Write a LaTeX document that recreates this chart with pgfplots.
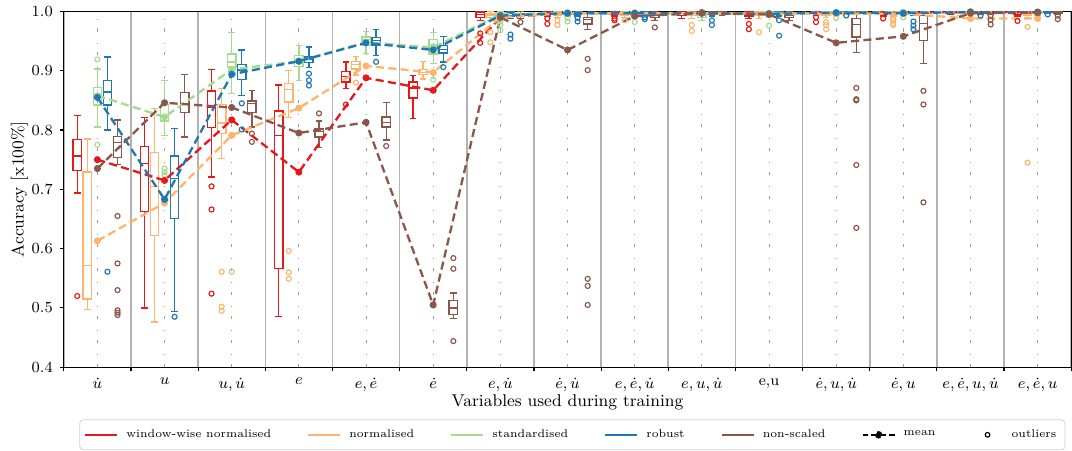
\documentclass[border=0pt]{standalone}
\usepackage{pgfplots}
\pgfplotsset{compat=1.18}
\usepgfplotslibrary{statistics}

\definecolor{cWW}{HTML}{E31A1C}
\definecolor{cNO}{HTML}{FDB46E}
\definecolor{cST}{HTML}{A6DB8F}
\definecolor{cRO}{HTML}{1F78B4}
\definecolor{cNS}{HTML}{8C564B}

\pgfplotsset{
  linelegend/.style={legend image code/.code={\draw[##1] (0pt,0pt) -- (16.5pt,0pt);}},
  meanlegend/.style={legend image code/.code={\draw[##1] (0pt,0pt) -- (16.5pt,0pt); \fill (8.25pt,0pt) circle (1.4pt);}},
  outlierlegend/.style={legend image code/.code={\path[draw=none, fill=none] (0pt,0pt) rectangle (16.5pt,0pt); \draw[##1] (8.25pt,0pt) circle (1.2pt);}},
  meanline/.style={line width=1.2pt, dash pattern=on 4.2pt off 2.2pt,
    mark=*, mark size=1.2pt, mark options={solid}, forget plot},
}

% \boxstat{colour}{position}{lower whisker}{lower quartile}{median}{upper quartile}{upper whisker}{outliers}
\newcommand{\boxstat}[8]{%
  \addplot[#1, line width=0.7pt, forget plot, mark=o, mark size=1.3pt,
    mark options={solid, line width=0.6pt},
    boxplot prepared={draw position=#2, lower whisker=#3, lower quartile=#4,
      median=#5, upper quartile=#6, upper whisker=#7, box extend=0.125}]
    coordinates {#8};}

\begin{document}
\begin{tikzpicture}
\begin{axis}[
  scale only axis,
  width=521pt, height=184pt,
  xmin=0.5, xmax=15.5, ymin=0.4, ymax=1.0,
  boxplot/draw direction=y,
  axis line style={black, line width=0.6pt},
  tick align=outside,
  tick pos=left,
  xtick={1,2,...,15},
  xticklabels={$\dot{u}$, $u$, {$u,\dot{u}$}, $e$, {$e,\dot{e}$}, $\dot{e}$,
    {$e,\dot{u}$}, {$\dot{e},\dot{u}$}, {$e,\dot{e},\dot{u}$}, {$e,u,\dot{u}$},
    {e,u}, {$\dot{e},u,\dot{u}$}, {$\dot{e},u$}, {$e,\dot{e},u,\dot{u}$}, {$e,\dot{e},u$}},
  minor xtick={0.5,1.5,...,15.5},
  major x tick style={draw=none},
  minor x tick style={black, line width=0.6pt},
  minor tick length=2.2pt,
  major tick length=2.2pt,
  xmajorgrids, xminorgrids,
  major grid style={draw=black!38, line width=0.5pt, dash pattern=on 1.7pt off 4.5pt on 0.5pt off 5.7pt},
  minor grid style={draw=black!30, line width=0.8pt},
  ytick={0.4,0.5,0.6,0.7,0.8,0.9,1.0},
  y tick style={black, line width=0.6pt},
  yticklabel style={/pgf/number format/.cd, fixed, fixed zerofill, precision=1},
  tick label style={font=\fontsize{7.8}{9.5}\selectfont},
  xlabel={Variables used during training},
  ylabel={Accuracy [x100\%]},
  every axis x label/.style={at={(rel axis cs:0.5,0)}, yshift=-18pt, anchor=center,
    font=\fontsize{8.8}{10.5}\selectfont},
  every axis y label/.style={at={(rel axis cs:0,0.5)}, xshift=-23pt, rotate=90, anchor=center,
    font=\fontsize{8.8}{10.5}\selectfont},
  legend columns=7,
  linelegend,
  legend style={at={(1,0)}, anchor=north east, yshift=-27pt, xshift=-3pt,
    draw=black!18, rounded corners=2pt, font=\fontsize{5.8}{7}\selectfont,
    inner xsep=2.5pt, inner ysep=3pt,
    /tikz/every odd column/.append style={column sep=2.2pt},
    /tikz/every even column/.append style={column sep=16.7pt}},
  legend cell align=left,
]
\coordinate (tl) at (rel axis cs:0,1);

% group 1
\boxstat{cWW}{0.7}{0.694}{0.732}{0.756}{0.784}{0.825}{(0,0.520)}
\boxstat{cNO}{0.85}{0.497}{0.515}{0.572}{0.729}{0.785}{}
\boxstat{cST}{1}{0.805}{0.842}{0.860}{0.872}{0.903}{(0,0.919)(0,0.775)}
\boxstat{cRO}{1.15}{0.800}{0.842}{0.864}{0.884}{0.923}{(0,0.561)}
\boxstat{cNS}{1.3}{0.742}{0.754}{0.779}{0.789}{0.817}{(0,0.655)(0,0.575)(0,0.530)(0,0.496)(0,0.492)(0,0.488)}
% group 2
\boxstat{cWW}{1.7}{0.500}{0.663}{0.743}{0.772}{0.821}{}
\boxstat{cNO}{1.85}{0.476}{0.622}{0.705}{0.762}{0.836}{}
\boxstat{cST}{2}{0.791}{0.815}{0.823}{0.843}{0.884}{(0,0.735)(0,0.729)(0,0.724)}
\boxstat{cRO}{2.15}{0.494}{0.651}{0.718}{0.756}{0.803}{(0,0.485)}
\boxstat{cNS}{2.3}{0.788}{0.829}{0.845}{0.863}{0.894}{}
% group 3
\boxstat{cWW}{2.7}{0.721}{0.804}{0.839}{0.866}{0.902}{(0,0.705)(0,0.666)(0,0.524)}
\boxstat{cNO}{2.85}{0.752}{0.794}{0.812}{0.843}{0.870}{(0,0.561)(0,0.502)(0,0.495)}
\boxstat{cST}{3}{0.862}{0.906}{0.915}{0.928}{0.965}{(0,0.561)}
\boxstat{cRO}{3.15}{0.858}{0.885}{0.901}{0.911}{0.935}{(0,0.845)(0,0.801)}
\boxstat{cNS}{3.3}{0.805}{0.829}{0.845}{0.849}{0.867}{(0,0.794)(0,0.780)}
% group 4
\boxstat{cWW}{3.7}{0.485}{0.567}{0.791}{0.832}{0.876}{}
\boxstat{cNO}{3.85}{0.821}{0.847}{0.868}{0.878}{0.900}{(0,0.596)(0,0.560)(0,0.549)}
\boxstat{cST}{4}{0.884}{0.907}{0.919}{0.926}{0.943}{}
\boxstat{cRO}{4.15}{0.905}{0.914}{0.920}{0.923}{0.940}{(0,0.895)(0,0.884)(0,0.875)}
\boxstat{cNS}{4.3}{0.771}{0.788}{0.798}{0.802}{0.815}{(0,0.828)}
% group 5
\boxstat{cWW}{4.7}{0.870}{0.881}{0.890}{0.899}{0.915}{(0,0.843)}
\boxstat{cNO}{4.85}{0.893}{0.903}{0.911}{0.916}{0.924}{(0,0.880)}
\boxstat{cST}{5}{0.929}{0.943}{0.953}{0.957}{0.966}{}
\boxstat{cRO}{5.15}{0.926}{0.943}{0.951}{0.956}{0.970}{(0,0.915)}
\boxstat{cNS}{5.3}{0.783}{0.805}{0.813}{0.822}{0.846}{(0,0.773)}
% group 6
\boxstat{cWW}{5.7}{0.819}{0.854}{0.871}{0.881}{0.892}{}
\boxstat{cNO}{5.85}{0.886}{0.894}{0.897}{0.902}{0.916}{}
\boxstat{cST}{6}{0.912}{0.928}{0.944}{0.953}{0.965}{(0,0.885)}
\boxstat{cRO}{6.15}{0.915}{0.930}{0.936}{0.943}{0.958}{(0,0.906)}
\boxstat{cNS}{6.3}{0.482}{0.489}{0.500}{0.512}{0.525}{(0,0.584)(0,0.566)(0,0.444)}
% group 7
\boxstat{cWW}{6.7}{0.985}{0.990}{0.995}{0.999}{1.000}{(0,0.963)(0,0.947)}
\boxstat{cNO}{6.85}{0.985}{0.990}{0.994}{0.997}{1.000}{(0,0.965)(0,0.948)}
\boxstat{cST}{7}{0.988}{0.992}{0.995}{0.998}{1.000}{(0,0.983)(0,0.978)(0,0.968)}
\boxstat{cRO}{7.15}{0.988}{0.992}{0.996}{0.999}{1.000}{(0,0.961)(0,0.954)}
\boxstat{cNS}{7.3}{0.988}{0.991}{0.994}{0.997}{1.000}{(0,0.982)}
% group 8
\boxstat{cWW}{7.7}{0.992}{0.995}{0.998}{0.999}{1.000}{(0,0.988)(0,0.979)}
\boxstat{cNO}{7.85}{0.990}{0.994}{0.997}{0.999}{1.000}{(0,0.985)(0,0.977)}
\boxstat{cST}{8}{0.992}{0.995}{0.998}{0.999}{1.000}{(0,0.989)(0,0.983)}
\boxstat{cRO}{8.15}{0.992}{0.995}{0.998}{0.999}{1.000}{(0,0.989)(0,0.983)}
\boxstat{cNS}{8.3}{0.970}{0.979}{0.986}{0.990}{0.998}{(0,0.920)(0,0.901)(0,0.549)(0,0.537)(0,0.505)}
% group 9
\boxstat{cWW}{8.7}{0.992}{0.995}{0.998}{0.999}{1.000}{(0,0.988)(0,0.985)}
\boxstat{cNO}{8.85}{0.990}{0.994}{0.997}{0.999}{1.000}{(0,0.985)}
\boxstat{cST}{9}{0.990}{0.994}{0.997}{0.999}{1.000}{(0,0.982)}
\boxstat{cRO}{9.15}{0.993}{0.996}{0.998}{0.999}{1.000}{(0,0.990)(0,0.987)}
\boxstat{cNS}{9.3}{0.985}{0.990}{0.994}{0.997}{1.000}{(0,0.973)}
% group 10
\boxstat{cWW}{9.7}{0.988}{0.993}{0.996}{0.999}{1.000}{}
\boxstat{cNO}{9.85}{0.988}{0.993}{0.996}{0.999}{1.000}{(0,0.977)(0,0.967)}
\boxstat{cST}{10}{0.985}{0.990}{0.994}{0.997}{1.000}{}
\boxstat{cRO}{10.15}{0.992}{0.995}{0.998}{0.999}{1.000}{(0,0.985)(0,0.977)}
\boxstat{cNS}{10.3}{0.993}{0.996}{0.998}{0.999}{1.000}{}
% group 11
\boxstat{cWW}{10.7}{0.988}{0.992}{0.995}{0.999}{1.000}{(0,0.979)(0,0.970)}
\boxstat{cNO}{10.85}{0.988}{0.993}{0.996}{0.999}{1.000}{(0,0.965)}
\boxstat{cST}{11}{0.990}{0.994}{0.997}{0.999}{1.000}{(0,0.976)}
\boxstat{cRO}{11.15}{0.992}{0.995}{0.998}{0.999}{1.000}{(0,0.985)(0,0.959)}
\boxstat{cNS}{11.3}{0.985}{0.990}{0.994}{0.998}{1.000}{}
% group 12
\boxstat{cWW}{11.7}{0.993}{0.996}{0.998}{0.999}{1.000}{(0,0.990)(0,0.982)}
\boxstat{cNO}{11.85}{0.990}{0.994}{0.997}{0.999}{1.000}{(0,0.982)(0,0.977)(0,0.970)}
\boxstat{cST}{12}{0.993}{0.996}{0.998}{0.999}{1.000}{(0,0.989)}
\boxstat{cRO}{12.15}{0.995}{0.997}{0.998}{0.999}{1.000}{(0,0.993)}
\boxstat{cNS}{12.3}{0.931}{0.957}{0.978}{0.988}{1.000}{(0,0.871)(0,0.852)(0,0.850)(0,0.741)(0,0.635)}
% group 13
\boxstat{cWW}{12.7}{0.992}{0.995}{0.998}{0.999}{1.000}{(0,0.988)}
\boxstat{cNO}{12.85}{0.992}{0.995}{0.998}{0.999}{1.000}{(0,0.988)(0,0.985)(0,0.980)(0,0.977)}
\boxstat{cST}{13}{0.993}{0.996}{0.998}{0.999}{1.000}{(0,0.990)}
\boxstat{cRO}{13.15}{0.993}{0.996}{0.998}{0.999}{1.000}{(0,0.983)(0,0.976)(0,0.970)}
\boxstat{cNS}{13.3}{0.912}{0.951}{0.980}{0.993}{1.000}{(0,0.866)(0,0.843)(0,0.678)}
% group 14
\boxstat{cWW}{13.7}{0.995}{0.997}{0.999}{1.000}{1.000}{}
\boxstat{cNO}{13.85}{0.993}{0.996}{0.998}{0.999}{1.000}{}
\boxstat{cST}{14}{0.995}{0.997}{0.999}{1.000}{1.000}{}
\boxstat{cRO}{14.15}{0.995}{0.997}{0.999}{1.000}{1.000}{(0,0.993)}
\boxstat{cNS}{14.3}{0.995}{0.997}{0.999}{1.000}{1.000}{(0,0.993)(0,0.986)(0,0.978)}
% group 15
\boxstat{cWW}{14.7}{0.992}{0.995}{0.998}{0.999}{1.000}{(0,0.984)}
\boxstat{cNO}{14.85}{0.990}{0.994}{0.997}{0.999}{1.000}{(0,0.974)(0,0.745)}
\boxstat{cST}{15}{0.993}{0.996}{0.998}{0.999}{1.000}{(0,0.990)}
\boxstat{cRO}{15.15}{0.996}{0.998}{0.999}{1.000}{1.000}{(0,0.995)}
\boxstat{cNS}{15.3}{0.995}{0.997}{0.999}{1.000}{1.000}{(0,0.993)(0,0.987)}

% mean accuracy per group
\addplot[cWW, meanline] coordinates {(1,0.750)(2,0.715)(3,0.817)(4,0.729)(5,0.888)(6,0.867)(7,0.990)(8,0.997)(9,0.997)(10,0.998)(11,0.996)(12,0.997)(13,0.998)(14,0.999)(15,0.998)};
\addplot[cNO, meanline] coordinates {(1,0.613)(2,0.677)(3,0.791)(4,0.837)(5,0.908)(6,0.897)(7,0.990)(8,0.997)(9,0.997)(10,0.997)(11,0.996)(12,0.996)(13,0.996)(14,0.988)(15,0.988)};
\addplot[cST, meanline] coordinates {(1,0.858)(2,0.822)(3,0.902)(4,0.916)(5,0.948)(6,0.939)(7,0.995)(8,0.998)(9,0.997)(10,0.997)(11,0.997)(12,0.998)(13,0.998)(14,0.999)(15,0.998)};
\addplot[cRO, meanline] coordinates {(1,0.855)(2,0.683)(3,0.894)(4,0.916)(5,0.947)(6,0.935)(7,0.993)(8,0.997)(9,0.997)(10,0.997)(11,0.996)(12,0.998)(13,0.997)(14,0.999)(15,0.999)};
\addplot[cNS, meanline] coordinates {(1,0.735)(2,0.846)(3,0.838)(4,0.795)(5,0.813)(6,0.505)(7,0.990)(8,0.935)(9,0.992)(10,0.997)(11,0.995)(12,0.947)(13,0.958)(14,0.997)(15,0.998)};

% legend
\addlegendimage{cWW, line width=1pt}
\addlegendentry{window-wise normalised}
\addlegendimage{cNO, line width=1pt}
\addlegendentry{normalised}
\addlegendimage{cST, line width=1pt}
\addlegendentry{standardised}
\addlegendimage{cRO, line width=1pt}
\addlegendentry{robust}
\addlegendimage{cNS, line width=1pt}
\addlegendentry{non-scaled}
\addlegendimage{black, line width=1pt, dash pattern=on 3pt off 1.5pt, meanlegend}
\addlegendentry{mean}
\addlegendimage{black, line width=0.6pt, outlierlegend}
\addlegendentry{outliers}
\end{axis}
\path (tl) ++(-33pt,5.7pt);
\end{tikzpicture}
\end{document}
